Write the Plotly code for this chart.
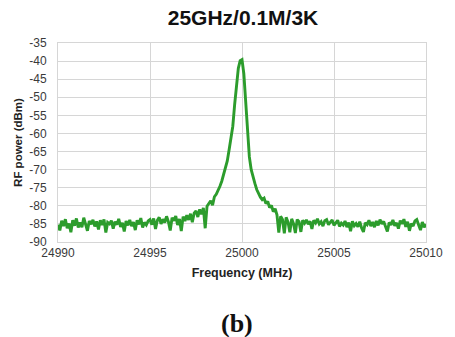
import plotly.graph_objects as go

# Spectrum trace (dBm), one value per 0.1 MHz from 24990 MHz to 25010 MHz
freq_start_mhz = 24990.0
freq_step_mhz = 0.1
power_dbm = [
    # 24990.0 - 24994.9
    -85.2, -86.8, -84.1, -85.6, -83.7, -86.2, -84.9, -87.3, -84.0, -85.5,
    -83.5, -86.0, -84.6, -85.9, -83.3, -84.8, -86.9, -84.2, -85.1, -83.9,
    -85.7, -84.3, -86.5, -84.0, -85.3, -83.8, -87.4, -84.6, -85.0, -84.1,
    -86.3, -84.4, -85.2, -83.6, -85.8, -84.7, -87.1, -84.2, -85.4, -83.9,
    -85.6, -84.5, -86.7, -84.0, -85.1, -83.4, -86.0, -84.6, -85.3, -84.2,
    # 24995.0 - 24996.9
    -83.8, -85.2, -83.5, -86.4, -84.0, -83.2, -85.0, -83.7, -84.6, -82.9,
    -84.4, -86.8, -83.3, -84.1, -82.8, -85.3, -83.6, -87.0, -83.0, -84.2,
    # 24997.0 - 24998.4
    -82.6, -83.9, -82.2, -84.5, -82.0, -81.4, -83.1, -81.0, -82.3, -80.6,
    -86.2, -80.1, -79.3, -78.6, -79.8,
    # 24998.5 - 25000.9 (carrier)
    -77.5, -76.8, -75.9, -74.6, -73.2, -71.5, -69.8, -67.6, -64.5, -61.5,
    -58.0, -52.0, -46.5, -42.0, -39.9, -39.6, -43.5, -51.0, -60.5, -66.5,
    -70.0, -72.2, -73.8, -75.5, -76.8,
    # 25001.0 - 25001.9
    -77.6, -78.3, -77.9, -79.4, -78.8, -80.5, -79.9, -81.6, -80.8, -82.5,
    # 25002.0 - 25003.3
    -87.4, -82.9, -83.8, -87.6, -83.2, -84.5, -87.3, -83.6, -84.9, -87.5,
    -83.8, -84.4, -87.2, -84.0,
    # 25003.4 - 25005.1
    -84.8, -83.9, -85.1, -84.3, -86.4, -84.0, -84.7, -83.6, -85.0, -84.4,
    -85.6, -84.1, -83.8, -85.2, -84.5, -83.9, -85.4, -84.6,
    # 25005.2 - 25010.0
    -84.0, -85.7, -84.8, -85.3, -84.2, -85.9, -84.6, -87.0, -84.3, -85.5,
    -84.9, -85.8, -84.4, -86.1, -87.2, -84.7, -85.2, -84.0, -85.6, -84.5,
    -85.9, -84.2, -85.4, -83.8, -85.0, -84.3, -86.0, -87.1, -84.6, -85.3,
    -83.9, -85.5, -84.7, -86.3, -84.1, -85.0, -83.7, -85.8, -84.4, -86.9,
    -84.9, -85.6, -84.2, -83.8, -85.3, -86.7, -84.5, -85.9, -85.1,
]
freq_mhz = [round(freq_start_mhz + i * freq_step_mhz, 1) for i in range(len(power_dbm))]

x_ticks = [24990, 24995, 25000, 25005, 25010]
x_tick_labels = ["24990", "24995", "25000", "25005", "25010"]
y_ticks = [-90, -85, -80, -75, -70, -65, -60, -55, -50, -45, -40, -35]
y_tick_labels = [str(v) for v in y_ticks]

title_text = "25GHz/0.1M/3K"
x_title = "Frequency (MHz)"
y_title = "RF power (dBm)"
panel_label = "(b)"

fig = go.Figure()
fig.add_trace(go.Scatter(
    x=freq_mhz, y=power_dbm, mode="lines",
    line=dict(color="#2c9c2c", width=2.9),
    showlegend=False,
))

grid_col = "#d6d6d6"
tick_font = dict(family="Liberation Sans, Arial, sans-serif", size=12, color="#3a3a3a")

fig.update_layout(
    width=455, height=337,
    margin=dict(l=58, r=18, t=43, b=95),
    paper_bgcolor="white", plot_bgcolor="white",
    title=dict(
        text="<b>" + title_text + "</b>",
        x=243 / 455, xanchor="center", xref="container",
        y=1 - 18 / 337, yanchor="middle", yref="container",
        font=dict(family="Liberation Sans, Arial, sans-serif", size=21, color="#111111"),
    ),
    xaxis=dict(
        range=[24990, 25010],
        tickmode="array", tickvals=x_ticks, ticktext=x_tick_labels,
        showgrid=True, gridcolor=grid_col, gridwidth=1,
        showline=True, linecolor=grid_col, linewidth=1, mirror=True,
        zeroline=False, ticks="",
        tickfont=tick_font, ticklabelstandoff=0,
        title=dict(text="<b>" + x_title + "</b>", standoff=8,
                   font=dict(family="Liberation Sans, Arial, sans-serif", size=12.5, color="#222222")),
    ),
    yaxis=dict(
        range=[-90, -35],
        tickmode="array", tickvals=y_ticks, ticktext=y_tick_labels,
        showgrid=True, gridcolor=grid_col, gridwidth=1,
        showline=True, linecolor=grid_col, linewidth=1, mirror=True,
        zeroline=False, ticks="",
        tickfont=tick_font, ticklabelstandoff=8,
        title=dict(text="<b>" + y_title + "</b>", standoff=4,
                   font=dict(family="Liberation Sans, Arial, sans-serif", size=11.5, color="#222222")),
    ),
    annotations=[dict(
        text="<b>" + panel_label + "</b>",
        xref="paper", yref="paper",
        x=(242 - 58) / 379, y=(242 - 323) / 199,
        xanchor="center", yanchor="middle", showarrow=False,
        font=dict(family="Liberation Serif, Times New Roman, serif", size=26, color="#111111"),
    )],
)

fig.write_html("out.html")
